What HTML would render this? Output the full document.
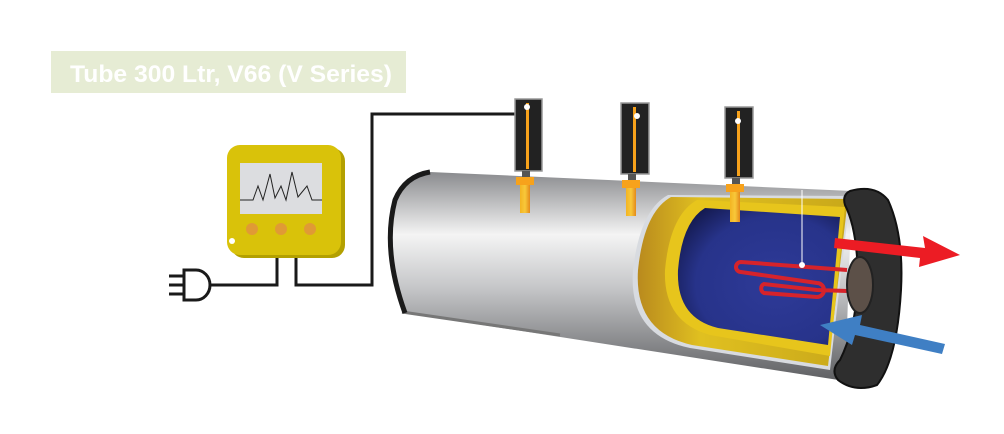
<!DOCTYPE html>
<html><head><style>
html,body{margin:0;padding:0;background:#fff;}
body{width:1004px;height:429px;overflow:hidden;}
</style></head><body>
<svg width="1004" height="429" viewBox="0 0 1004 429" xmlns="http://www.w3.org/2000/svg">
<defs>
<linearGradient id="tank" x1="0" y1="0" x2="0" y2="1">
<stop offset="0" stop-color="#8a8b8e"/><stop offset="0.3" stop-color="#f4f4f4"/><stop offset="0.55" stop-color="#c6c7c9"/><stop offset="1" stop-color="#5e5f62"/>
</linearGradient>
<linearGradient id="gold" x1="0" y1="0" x2="1" y2="0">
<stop offset="0" stop-color="#b98a1e"/><stop offset="0.3" stop-color="#e0c020"/><stop offset="1" stop-color="#c9a81a"/>
</linearGradient>
<radialGradient id="blue" cx="0.6" cy="0.55" r="0.7">
<stop offset="0" stop-color="#2e3a98"/><stop offset="0.7" stop-color="#27338a"/><stop offset="1" stop-color="#141a50"/>
</radialGradient>
<linearGradient id="org" x1="0" y1="0" x2="1" y2="0">
<stop offset="0" stop-color="#f3b422"/><stop offset="0.5" stop-color="#f8c83a"/><stop offset="1" stop-color="#e48a1a"/>
</linearGradient>
</defs>

<rect x="51" y="51" width="355" height="42" fill="#e6ecd4"/>
<text x="70" y="82" font-family="Liberation Sans, sans-serif" font-weight="bold" font-size="24" fill="#fff" textLength="322" lengthAdjust="spacingAndGlyphs">Tube 300 Ltr, V66 (V Series)</text>

<g stroke="#1a1a1a" stroke-width="3" fill="none">
<path d="M277 255 V285 H205"/>
<path d="M296 255 V285 H372 V114 H518"/>
</g>
<path d="M184 270 H196 A14 15 0 0 1 196 300 H184 Z" fill="#fff" stroke="#1a1a1a" stroke-width="3"/>
<g stroke="#1a1a1a" stroke-width="3"><line x1="169" y1="276" x2="184" y2="276"/><line x1="169" y1="285" x2="184" y2="285"/><line x1="169" y1="294" x2="184" y2="294"/></g>

<rect x="231" y="148" width="114" height="110" rx="13" fill="#b3a000"/>
<rect x="227" y="145" width="114" height="110" rx="13" fill="#d9c20a"/>
<rect x="240" y="163" width="82" height="51" fill="#dcdde0"/>
<polyline points="240,200 253,200 258,186 263,200 270,174 275,198 281,186 286,200 292,172 298,197 307,186 312,200 322,200" fill="none" stroke="#222" stroke-width="1"/>
<circle cx="252" cy="229" r="6" fill="#e09a35"/><circle cx="281" cy="229" r="6" fill="#e09a35"/><circle cx="310" cy="229" r="6" fill="#e09a35"/>
<circle cx="232" cy="241" r="3" fill="#fff"/>

<path d="M430 172 L852 191 L845 381 L405 313 Q382 250 395 200 Q405 176 430 172 Z" fill="url(#tank)"/>
<path d="M402 312 L560 335" stroke="#777" stroke-width="3"/>
<path d="M430 172 Q405 176 395 200 Q382 250 405 313" fill="none" stroke="#1a1a1a" stroke-width="5"/>

<path d="M668 195 L850 196 L830 370 L690 348 Q628 335 633 270 Q640 210 668 195 Z" fill="#d8dbe0"/>
<path d="M671 197 L848 199 L828 366 L692 345 Q634 332 638 270 Q644 212 671 197 Z" fill="url(#gold)"/>
<path d="M697 200 L845 207 L830 356 L710 335 Q663 322 665 270 Q670 215 697 200 Z" fill="#e7c51c"/>
<path d="M705 208 L840 217 L828 345 L718 328 Q676 318 678 270 Q682 222 705 208 Z" fill="url(#blue)"/>

<path d="M847 270 L741 262 A4.5 4.5 0 0 0 741 272 L817 283 A7 7 0 0 1 817 297 L764 293 A5 5 0 0 1 764 284 L817 290 L847 291" fill="none" stroke="#d6232b" stroke-width="4"/>
<line x1="802" y1="190" x2="802" y2="265" stroke="#fff" stroke-width="1"/>
<circle cx="802" cy="265" r="3" fill="#fff"/>

<path d="M850 191 Q875 184 888 200 Q904 235 901 290 Q897 360 877 385 Q855 393 838 380 Q830 370 840 360 Q855 330 858 285 Q858 230 845 205 Q842 195 850 191 Z" fill="#2e2e2e" stroke="#111" stroke-width="2"/>
<ellipse cx="860" cy="285" rx="13" ry="28" fill="#5c5048" stroke="#222" stroke-width="2"/>

<path d="M835 238 L925 248 L923 236 L960 255 L919 267 L920 258 L834 248 Z" fill="#ec1c24"/>
<path d="M945 344 L860 325 L862 315 L820 325 L852 345 L855 335 L942 354 Z" fill="#3f7fc4"/>

<g>
<rect x="515" y="99" width="27" height="72" fill="#222" stroke="#999" stroke-width="1.5"/>
<rect x="526" y="103" width="3" height="66" fill="#f7a21b"/>
<circle cx="527" cy="107" r="3" fill="#fff"/>
<rect x="522" y="171" width="8" height="6" fill="#555"/>
<rect x="516" y="177" width="18" height="8" fill="#f7a21b"/>
<rect x="520" y="185" width="10" height="28" fill="url(#org)"/>

<rect x="621" y="103" width="28" height="71" fill="#222" stroke="#999" stroke-width="1.5"/>
<rect x="633" y="107" width="3" height="65" fill="#f7a21b"/>
<circle cx="637" cy="116" r="3" fill="#fff"/>
<rect x="628" y="174" width="8" height="6" fill="#555"/>
<rect x="622" y="180" width="18" height="8" fill="#f7a21b"/>
<rect x="626" y="188" width="10" height="28" fill="url(#org)"/>

<rect x="725" y="107" width="28" height="71" fill="#222" stroke="#999" stroke-width="1.5"/>
<rect x="737" y="111" width="3" height="65" fill="#f7a21b"/>
<circle cx="738" cy="121" r="3" fill="#fff"/>
<rect x="732" y="178" width="8" height="6" fill="#555"/>
<rect x="726" y="184" width="18" height="8" fill="#f7a21b"/>
<rect x="730" y="192" width="10" height="30" fill="url(#org)"/>
</g>
</svg>
</body></html>
